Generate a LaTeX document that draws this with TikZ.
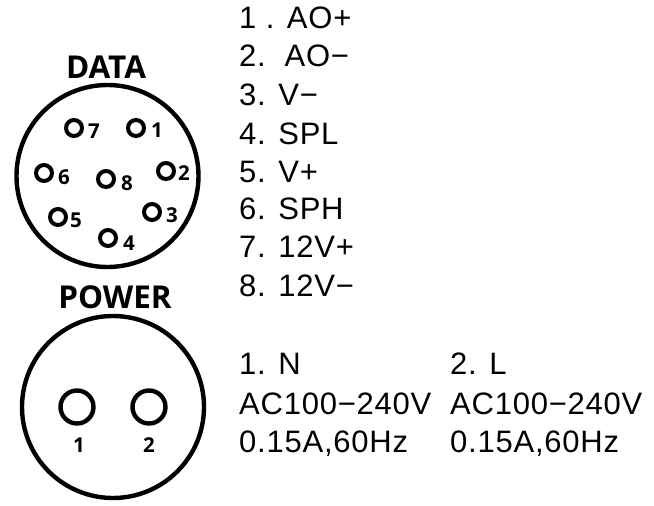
\documentclass[tikz,border=0pt]{standalone}
\usepackage{fontspec}
\setmainfont{Open Sans}
\newfontfamily\lab[LetterSpace=2.5]{Liberation Sans}
\tikzset{
 x=1pt,y=-1pt,
 shell/.style={circle,draw,line width=4.4pt,inner sep=0pt,minimum size=182pt},
 pin/.style={circle,draw,line width=4pt,inner sep=0pt,minimum size=16pt},
 bigpin/.style={circle,draw,line width=4.4pt,inner sep=0pt,minimum size=33pt},
 num/.style={inner sep=0pt,font=\fontsize{20.5}{20.5}\selectfont\bfseries},
 head/.style={inner sep=0pt,font=\fontsize{31.5}{31.5}\selectfont\bfseries},
 txt/.style={inner sep=0pt,anchor=base west,font=\lab\fontsize{31}{31}\selectfont}
}
\begin{document}
\begin{tikzpicture}
\useasboundingbox (0,0) rectangle (654,506);
\node[head] (h1) at (106,67.5) {DATA};
\node[head] (h2) at (115,297) {POWER};
\node[shell] (s1) at (107.5,176) {};
\node[shell] (s2) at (113,407) {};
\foreach \n/\x/\y/\lx/\ly in {1/136/128/157/130,2/166/171/184/173,3/152/212/172/215,4/108/238/129/243,5/58/217/76/220,6/44/173/64/177,7/74/128/94/131,8/106/179/127/183}{
 \node[pin] (p\n) at (\x,\y) {};
 \node[num] (l\n) at (\lx,\ly) {\n};
}
\node[bigpin] (q1) at (77,407) {};
\node[bigpin] (q2) at (149,407) {};
\node[num] (m1) at (79,445) {1};
\node[num] (m2) at (149,445) {2};
\node[txt] (t1) at (239,28) {1 . AO+};
\node[txt] (t2) at (239,66) {2.\ \ AO−};
\node[txt] (t3) at (239,105) {3. V−};
\node[txt] (t4) at (239,144) {4. SPL};
\node[txt] (t5) at (239,182) {5. V+};
\node[txt] (t6) at (239,219) {6. SPH};
\node[txt] (t7) at (239,257) {7. 12V+};
\node[txt] (t8) at (239,296) {8. 12V−};
\node[txt] (u1) at (239,374) {1. N};
\node[txt] (u2) at (239,414) {AC100−240V};
\node[txt] (u3) at (239,452) {0.15A,60Hz};
\node[txt] (v1) at (450,374) {2. L};
\node[txt] (v2) at (450,414) {AC100−240V};
\node[txt] (v3) at (450,452) {0.15A,60Hz};
\end{tikzpicture}
\end{document}
